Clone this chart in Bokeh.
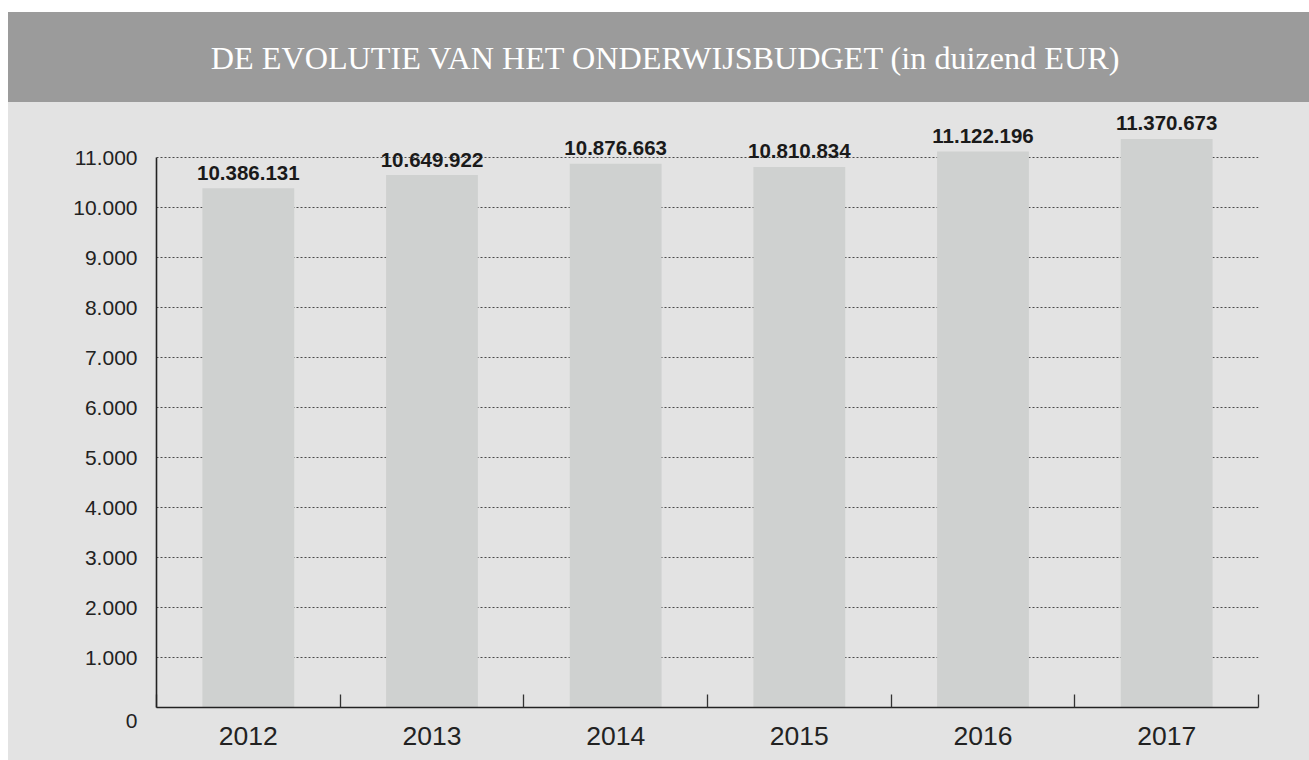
from bokeh.plotting import figure
from bokeh.models import FixedTicker, Label, Range1d
from bokeh.layouts import column
from bokeh.core.properties import value
from bokeh.embed import file_html
from bokeh.resources import INLINE

title_text = "DE EVOLUTIE VAN HET ONDERWIJSBUDGET (in duizend EUR)"
years = ["2012", "2013", "2014", "2015", "2016", "2017"]
budget = [10386131, 10649922, 10876663, 10810834, 11122196, 11370673]
y_ticks = [1000, 2000, 3000, 4000, 5000, 6000, 7000, 8000, 9000, 10000, 11000]
y_tick_labels = ["1.000", "2.000", "3.000", "4.000", "5.000", "6.000", "7.000",
                 "8.000", "9.000", "10.000", "11.000"]
zero_label = "0"

W = 1301
HEADER_H = 90
MAIN_H = 658
LEFT, RIGHT = 148, 51

# header band
hdr = figure(width=W, height=HEADER_H, x_range=Range1d(LEFT, W - RIGHT), y_range=Range1d(0, 1),
             toolbar_location=None, output_backend="svg",
             min_border_left=LEFT, min_border_right=RIGHT, min_border_top=0, min_border_bottom=0,
             background_fill_color=None, border_fill_color=None, outline_line_color=None,
             styles={"background-color": "#9b9b9b"})
hdr.axis.visible = False
hdr.grid.visible = False
hdr.text(x=[W / 2 + 7], y=[0.5], text=[title_text], text_align="center", text_baseline="middle",
         text_color="white", text_font=value("Liberation Serif"), text_font_size="32.2px")

# main chart
centers = [i + 0.5 for i in range(len(years))]
vals = [b / 1000 for b in budget]
val_labels = [f"{b:,}".replace(",", ".") for b in budget]

p = figure(width=W, height=MAIN_H, x_range=Range1d(0, len(years)), y_range=Range1d(0, 12000),
           toolbar_location=None, output_backend="svg",
           min_border_left=LEFT, min_border_right=RIGHT, min_border_top=5, min_border_bottom=53,
           background_fill_color=None, border_fill_color=None, outline_line_color=None,
           styles={"background-color": "#e3e3e3"})

p.vbar(x=centers, top=vals, width=0.5, fill_color="#cfd1d0", line_color=None)
p.text(x=centers, y=vals, text=val_labels, text_align="center", text_baseline="alphabetic",
       y_offset=-15.5, text_font=value("Liberation Sans"), text_font_style="bold",
       text_font_size="20.5px", text_color="#1a1a1a")

# x axis
xa = p.xaxis[0]
xa.ticker = FixedTicker(ticks=centers, minor_ticks=list(range(len(years) + 1)))
xa.major_label_overrides = {c: y for c, y in zip(centers, years)}
xa.major_tick_in = 0
xa.major_tick_out = 0
xa.minor_tick_in = 13
xa.minor_tick_out = 0
xa.minor_tick_line_color = "#333333"
xa.minor_tick_line_width = 1.3
xa.axis_line_color = "#222222"
xa.axis_line_width = 1.6
xa.major_label_standoff = 19
xa.major_label_text_font = "Liberation Sans"
xa.major_label_text_font_size = "26.5px"
xa.major_label_text_color = "#222222"

# y axis
ya = p.yaxis[0]
ya.ticker = FixedTicker(ticks=y_ticks, minor_ticks=[])
ya.major_label_overrides = {t: l for t, l in zip(y_ticks, y_tick_labels)}
ya.bounds = (0, 11000)
ya.major_tick_in = 0
ya.major_tick_out = 0
ya.axis_line_color = "#222222"
ya.axis_line_width = 1.6
ya.major_label_standoff = 19
ya.major_label_text_font = "Liberation Sans"
ya.major_label_text_font_size = "21px"
ya.major_label_text_color = "#222222"

p.xgrid.visible = False
p.ygrid.grid_line_color = "#4a4a4a"
p.ygrid.grid_line_dash = "2 2"
p.ygrid.grid_line_width = 1

zero = Label(x=0, y=0, text=zero_label, x_offset=-19, y_offset=-13, text_align="right",
             text_baseline="middle", text_font="Liberation Sans", text_font_size="21px",
             text_color="#222222")
p.add_layout(zero, "left")

layout = column(hdr, p, spacing=0, margin=(12, 0, 0, 8))
open("out.html", "w").write(file_html(layout, INLINE))
